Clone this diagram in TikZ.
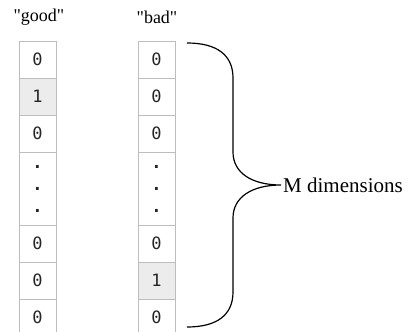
\documentclass[tikz,border=0pt]{standalone}
\usepackage{fontspec}
\setmainfont{Liberation Serif}
\setmonofont{DejaVu Sans Mono}
\usetikzlibrary{positioning}
\definecolor{cellline}{HTML}{BDBDBD}
\definecolor{cellfill}{HTML}{ECECEC}

\begin{document}
\begin{tikzpicture}[x=1pt, y=-1pt, %
      cell/.style={draw=cellline, line width=0.8pt, minimum width=37pt, minimum height=37pt, inner sep=0pt, outer sep=0pt, font=\fontsize{17}{20}\ttfamily, text=black!85}, %
      hot/.style={cell, fill=cellfill}, %
      dots/.style={cell, minimum height=73pt, align=center, font=\fontsize{17}{22}\ttfamily\bfseries}, %
      head/.style={font=\fontsize{18}{20}\selectfont}, %
      brace/.style={black, line width=1.2pt}, %
      ]
    \useasboundingbox (0,0) rectangle (410,332);

    \node[head] (good) at (39,17) {\textquotedbl good\textquotedbl};
    \node[head] (bad) at (157,17) {\textquotedbl bad\textquotedbl};

    \foreach \a/\val/\sty/\y in { %
      1/0/cell/59.5, 2/0/cell/96.5, 3/0/cell/133.5, %
      4/{.\\.\\.}/dots/188.5, %
      5/0/cell/243.5, 6/0/cell/280.5, 7/0/cell/317.5%
    }{ %
      \node[\sty] (g\a) at (37.5,\y) {\val};
      \node[\sty] (b\a) at (156.5,\y) {\val};
    }
    % the two set entries
    \node[hot] (g2x) at (g2) {1};
    \node[hot] (b6x) at (b6) {1};

    \coordinate (tip) at (281,185);
    \draw[brace] (187,43) .. controls (217,43) and (233,55) .. (233,78) -- (233,152)
      .. controls (233,173) and (252,185) .. (tip)
      .. controls (252,185) and (233,197) .. (233,218) -- (233,292)
      .. controls (233,315) and (217,327) .. (187,327);
    \node[right=1pt of tip, font=\fontsize{21}{24}\selectfont, inner sep=1pt] (mdim) {M dimensions};
\end{tikzpicture}
\end{document}
